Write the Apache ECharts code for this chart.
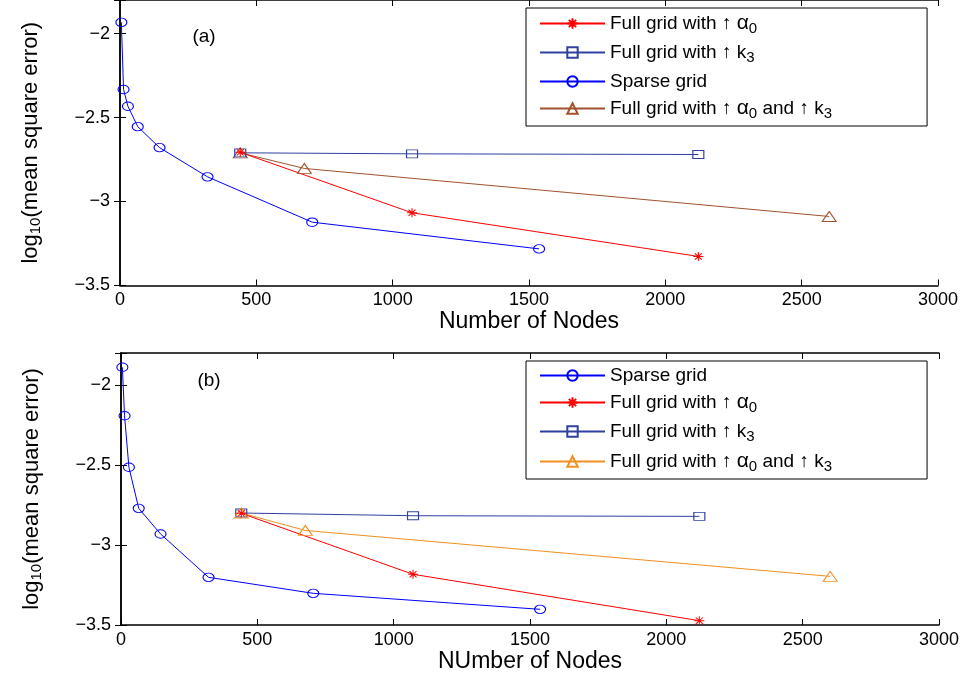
<!DOCTYPE html>
<html>
<head>
<meta charset="utf-8">
<script src="https://cdn.jsdelivr.net/npm/echarts@6/dist/echarts.min.js"></script>
<style>
  html, body { margin: 0; padding: 0; background: #fff; }
  #chart { width: 973px; height: 679px; }
</style>
</head>
<body>
<div id="chart"></div>
<script>
// Axis ticks shared by both panels
const xTicks = [0, 500, 1000, 1500, 2000, 2500, 3000];
const yTicks = [-3.5, -3, -2.5, -2];

// Node counts
const sparseX = [5, 13, 29, 65, 145, 321, 705, 1537];
const alphaX = [441, 1071, 2121];
const k3X = [441, 1071, 2121];
const bothX = [441, 676, 2601];

// Panel (a): log10 of the mean square error
const aSparseY = [-1.933, -2.333, -2.433, -2.554, -2.679, -2.853, -3.123, -3.282];
const aAlphaY = [-2.707, -3.067, -3.327];
const aK3Y = [-2.710, -2.716, -2.720];
const aBothY = [-2.710, -2.803, -3.089];

// Panel (b): log10 of the mean square error
const bSparseY = [-1.889, -2.192, -2.514, -2.771, -2.931, -3.202, -3.302, -3.402];
const bAlphaY = [-2.802, -3.183, -3.473];
const bK3Y = [-2.800, -2.817, -2.821];
const bBothY = [-2.800, -2.909, -3.196];

// Legend texts (rich-text markup for the subscripts)
const labelAlpha = 'Full grid with \u2191 {g|\u03b1}{s|0}';
const labelK3 = 'Full grid with \u2191 k{s|3}';
const labelSparse = 'Sparse grid';
const labelBoth = 'Full grid with \u2191 {g|\u03b1}{s|0} and \u2191 k{s|3}';

const FONT = 'Liberation Sans, Arial, Helvetica, sans-serif';
const zip = (xs, ys) => xs.map((x, i) => [x, ys[i]]);
const starPath = 'path://M0,5L10,5M5,0L5,10M1.5,1.5L8.5,8.5M1.5,8.5L8.5,1.5';

const fmtX = v => String(v);
const fmtY = v => {
  if (Math.abs(v * 2 - Math.round(v * 2)) > 1e-6) return '';
  return (v < 0 ? '\u2212' : '') + Math.abs(v);
};

function axesFor(gridIndex, xName) {
  const line = { show: true, lineStyle: { color: '#000', width: 1.5 } };
  const tick = { show: true, inside: true, length: 6, lineStyle: { color: '#000', width: 1 } };
  const label = { color: '#000', fontFamily: FONT, fontSize: 18 };
  const x = [
    {
      gridIndex, type: 'value', min: xTicks[0], max: xTicks[xTicks.length - 1], interval: 500,
      position: 'bottom', axisLine: line, axisTick: tick, splitLine: { show: false },
      axisLabel: Object.assign({ margin: 6, formatter: fmtX }, label),
      name: xName, nameLocation: 'middle', nameGap: 23,
      nameTextStyle: { color: '#000', fontFamily: FONT, fontSize: 23 }
    },
    {
      gridIndex, type: 'value', min: xTicks[0], max: xTicks[xTicks.length - 1], interval: 500,
      position: 'top', axisLine: line, axisTick: tick, axisLabel: { show: false },
      splitLine: { show: false }
    }
  ];
  const y = [
    {
      gridIndex, type: 'value', min: yTicks[0], max: -1.8, interval: 0.5,
      position: 'left', axisLine: line, axisTick: tick, splitLine: { show: false },
      axisLabel: Object.assign({ margin: 10, formatter: fmtY }, label),
      name: 'log{s|10}(mean square error)', nameLocation: 'middle', nameGap: 77, nameRotate: 90,
      nameTextStyle: {
        color: '#000', fontFamily: FONT, fontSize: 22,
        rich: { s: { fontFamily: FONT, fontSize: 15, color: '#000', padding: [9, 0, 0, 0] } }
      }
    },
    {
      gridIndex, type: 'value', min: yTicks[0], max: -1.8, interval: 0.5,
      position: 'right', axisLine: line, axisTick: tick, axisLabel: { show: false },
      splitLine: { show: false }
    }
  ];
  return { x, y };
}

const axA = axesFor(0, 'Number of Nodes');
const axB = axesFor(1, 'NUmber of Nodes');

const displayNames = {
  aAlpha: labelAlpha, aK3: labelK3, aSparse: labelSparse, aBoth: labelBoth,
  bSparse: labelSparse, bAlpha: labelAlpha, bK3: labelK3, bBoth: labelBoth
};

function mkSeries(id, xAxisIndex, yAxisIndex, data, color, symbol, size) {
  return {
    name: id, type: 'line', xAxisIndex, yAxisIndex, data,
    symbol, symbolSize: size, showSymbol: true,
    lineStyle: { color, width: 1 },
    itemStyle: { color: 'rgba(0,0,0,0)', borderColor: color, borderWidth: 1 },
    emphasis: { disabled: true }, z: 3
  };
}

const RED = '#ff0000', NAVY = '#3040a0', BLUE = '#0000ff', BROWN = '#a0522d', ORANGE = '#f09020';
const circleSz = [11, 8.5], rectSz = [11, 8], triSz = [14, 10], starSz = [10, 9];

const series = [
  mkSeries('aSparse', 0, 0, zip(sparseX, aSparseY), BLUE, 'circle', circleSz),
  mkSeries('aBoth', 0, 0, zip(bothX, aBothY), BROWN, 'triangle', triSz),
  mkSeries('aK3', 0, 0, zip(k3X, aK3Y), NAVY, 'rect', rectSz),
  mkSeries('aAlpha', 0, 0, zip(alphaX, aAlphaY), RED, starPath, starSz),
  mkSeries('bSparse', 2, 2, zip(sparseX, bSparseY), BLUE, 'circle', circleSz),
  mkSeries('bK3', 2, 2, zip(k3X, bK3Y), NAVY, 'rect', rectSz),
  mkSeries('bBoth', 2, 2, zip(bothX, bBothY), ORANGE, 'triangle', triSz),
  mkSeries('bAlpha', 2, 2, zip(alphaX, bAlphaY), RED, starPath, starSz)
];

const legendText = {
  color: '#000', fontFamily: FONT, fontSize: 19,
  rich: {
    g: { fontFamily: FONT, fontSize: 21, color: '#000' },
    s: { fontFamily: FONT, fontSize: 15, color: '#000', padding: [10, 0, 0, 0] }
  }
};
const legendBase = {
  orient: 'vertical', itemWidth: 65, itemHeight: 13, itemGap: 7,
  borderColor: '#000', borderWidth: 1, backgroundColor: '#fff',
  padding: [5, 95, 5, 13], textStyle: legendText,
  formatter: n => displayNames[n], selectedMode: false
};

const option = {
  animation: false,
  backgroundColor: '#fff',
  grid: [
    { left: 120, top: 0, width: 818, height: 285.5 },
    { left: 121, top: 353, width: 818, height: 272 }
  ],
  xAxis: [...axA.x, ...axB.x],
  yAxis: [...axA.y, ...axB.y],
  legend: [
    Object.assign({ left: 526, top: 8, data: ['aAlpha', 'aK3', 'aSparse', 'aBoth'] }, legendBase),
    Object.assign({ left: 526, top: 361, data: ['bSparse', 'bAlpha', 'bK3', 'bBoth'] }, legendBase)
  ],
  graphic: [
    { type: 'text', x: 204, y: 37, style: { text: '(a)', font: '19px ' + FONT, fill: '#000', align: 'center', verticalAlign: 'middle' } },
    { type: 'text', x: 209, y: 381, style: { text: '(b)', font: '19px ' + FONT, fill: '#000', align: 'center', verticalAlign: 'middle' } }
  ],
  series
};

echarts.init(document.getElementById('chart'), null, { renderer: 'canvas' }).setOption(option);
</script>
</body>
</html>
